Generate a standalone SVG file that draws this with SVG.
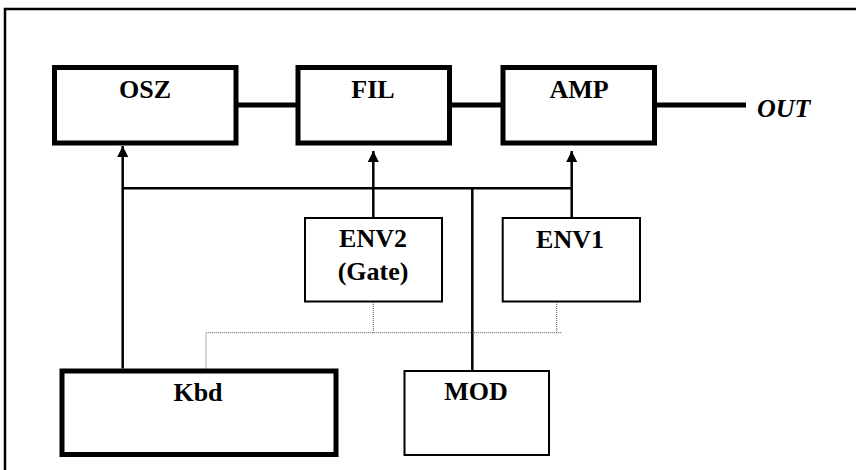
<svg xmlns="http://www.w3.org/2000/svg" width="856" height="470" viewBox="0 0 856 470">
<defs>
<style>
.thick{fill:#fff;stroke:#000;stroke-width:5}
.thin{fill:#fff;stroke:#000;stroke-width:2}
text{font-family:'Liberation Serif','Times New Roman',Times,serif;font-weight:bold;font-size:26px;fill:#000}
.lbl{text-anchor:middle}
.sig{fill:none;stroke:#000;stroke-width:5}
.ctl{fill:none;stroke:#000;stroke-width:2.5}
.dot{fill:none;stroke:#555;stroke-width:1;stroke-dasharray:1 1}
</style>
<marker id="ah" viewBox="0 0 10 10" refX="10" refY="5" markerWidth="4.4" markerHeight="4.4" orient="auto" markerUnits="strokeWidth">
<path d="M0,0 L10,5 L0,10 z" fill="#000"/>
</marker>
</defs>
<rect width="856" height="470" fill="#fff"/>
<path d="M5 470 V9 H856" fill="none" stroke="#000" stroke-width="2.5"/>
<g id="connectors">
<path class="sig" d="M236 105 H298"/>
<path class="sig" d="M449.5 105 H503"/>
<path class="sig" d="M654.5 105 H746"/>
<path class="ctl" d="M122.7 368.5 V146" marker-end="url(#ah)"/>
<path class="ctl" d="M122.7 188.3 H571.7"/>
<path class="ctl" d="M373.3 218 V151" marker-end="url(#ah)"/>
<path class="ctl" d="M571.7 218 V151" marker-end="url(#ah)"/>
<path class="ctl" d="M472.3 188.3 V370"/>
<path class="dot" d="M373.3 302 V332.7 M556.7 302 V332.7 M206 368.5 V332.7 H562"/>
</g>
<g id="osz"><rect class="thick" x="54.5" y="67.5" width="181.5" height="75.5"/><text class="lbl" x="145" y="98">OSZ</text></g>
<g id="fil"><rect class="thick" x="298" y="67.5" width="151.5" height="75.5"/><text class="lbl" x="373" y="98">FIL</text></g>
<g id="amp"><rect class="thick" x="503" y="67.5" width="151.5" height="75.5"/><text class="lbl" x="579" y="98">AMP</text></g>
<g id="out"><text x="757" y="117" font-style="italic">OUT</text></g>
<g id="env2"><rect class="thin" x="305" y="218" width="137" height="83.5"/><text class="lbl" x="373" y="247">ENV2</text><text class="lbl" x="373" y="280">(Gate)</text></g>
<g id="env1"><rect class="thin" x="502.7" y="218" width="137.3" height="83.5"/><text class="lbl" x="570" y="248">ENV1</text></g>
<g id="kbd"><rect class="thick" x="62" y="371" width="274" height="83.5"/><text class="lbl" x="198" y="401">Kbd</text></g>
<g id="mod"><rect class="thin" x="404.5" y="371" width="144.5" height="84"/><text class="lbl" x="476" y="400">MOD</text></g>
</svg>
